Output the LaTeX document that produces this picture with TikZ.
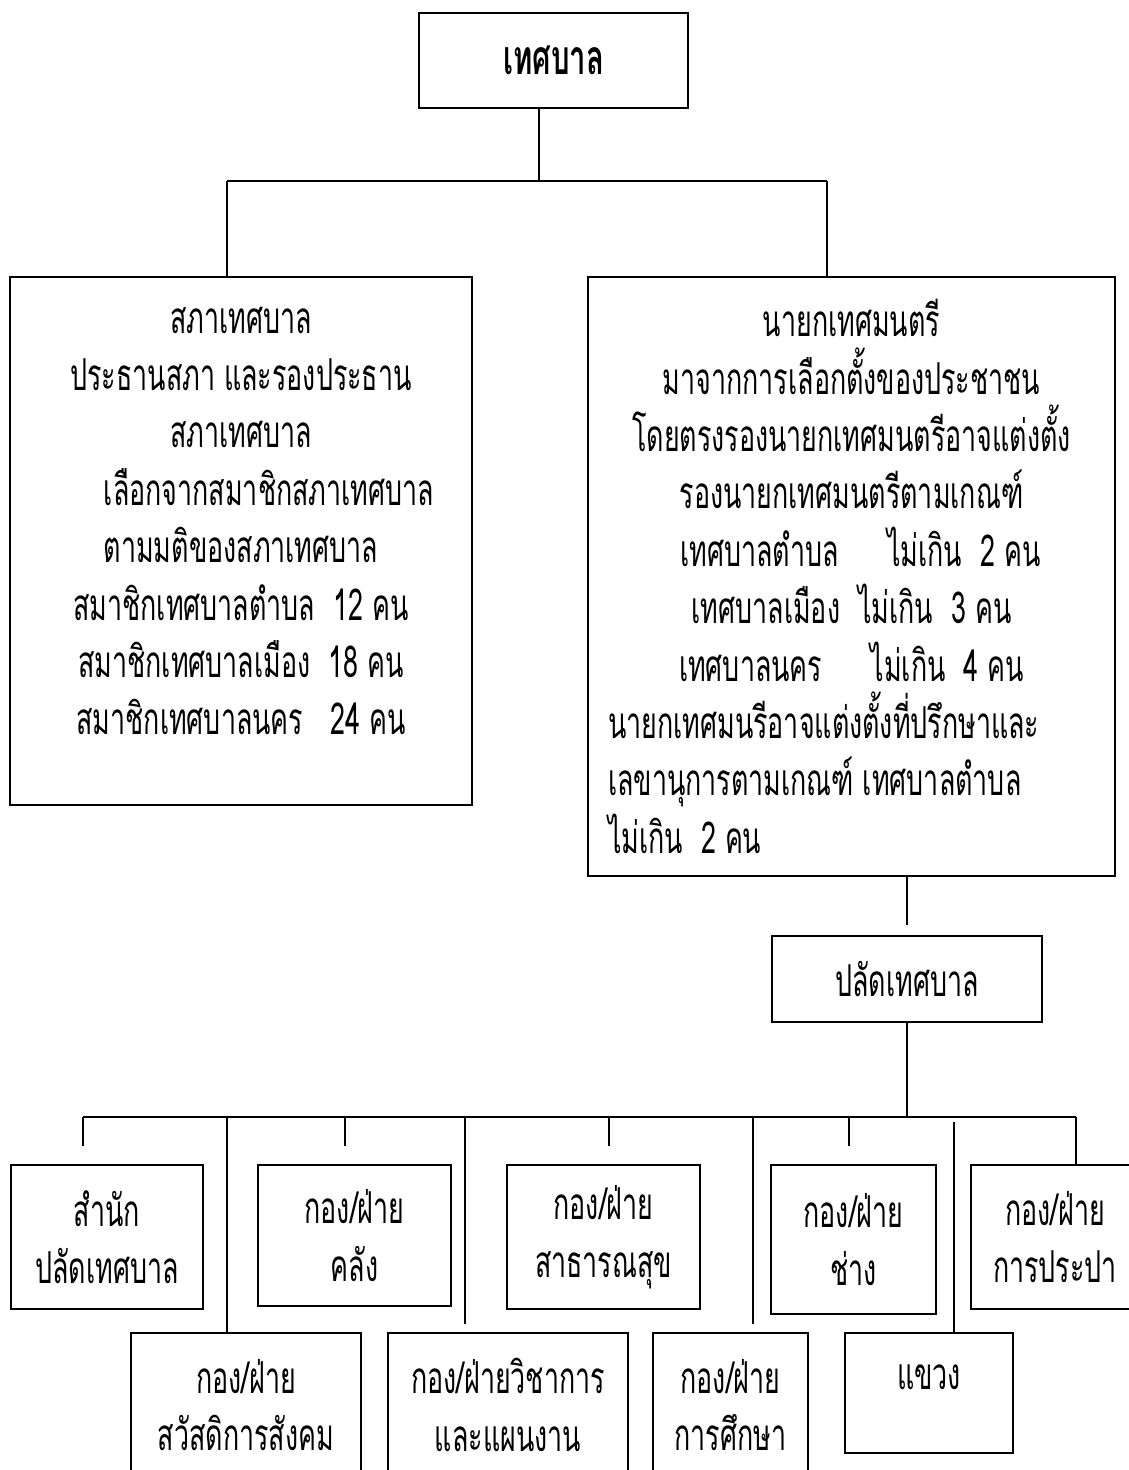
\documentclass[tikz,border=0pt]{standalone}
\usepackage{fontspec}
\newfontfamily\thaifont[Script=Thai,FakeStretch=0.61]{Loma}
\usetikzlibrary{positioning}

\begin{document}
\begin{tikzpicture}[x=0.5pt,y=0.5pt,line width=1pt,
    every node/.style={font=\thaifont\fontsize{22}{28.7}\selectfont},
    box/.style 2 args={draw,minimum width=#1*0.5pt,minimum height=#2*0.5pt,inner sep=0pt,align=center},
    txt/.style={inner sep=0pt,align=center}]
    \useasboundingbox (0,0) rectangle (1128,-1470);
    % top level
    \node [box={269}{95},font=\thaifont\bfseries\fontsize{24}{28.7}\selectfont] (muni) at (553.5,-60.5) {เทศบาล};
    \node [box={462}{528}] (council) at (241,-541) {};
    \node [txt] (councilText) at (241,-521) {สภาเทศบาล\\ประธานสภา และรองประธาน\\สภาเทศบาล\\\hspace*{28pt}เลือกจากสมาชิกสภาเทศบาล\\ตามมติของสภาเทศบาล\\สมาชิกเทศบาลตำบล\ \ 12 คน\\สมาชิกเทศบาลเมือง\ \ 18 คน\\สมาชิกเทศบาลนคร\ \ \ 24 คน};
    \node [box={527}{599}] (mayor) at (851.5,-576.5) {นายกเทศมนตรี\\มาจากการเลือกตั้งของประชาชน\\โดยตรงรองนายกเทศมนตรีอาจแต่งตั้ง\\รองนายกเทศมนตรีตามเกณฑ์\\\hspace*{9pt}เทศบาลตำบล\hspace{1.1em}ไม่เกิน\ \ 2 คน\\เทศบาลเมือง\ \ ไม่เกิน\ \ 3 คน\\เทศบาลนคร\hspace{1.1em}ไม่เกิน\ \ 4 คน\\\makebox[243.5pt][l]{นายกเทศมนรีอาจแต่งตั้งที่ปรึกษาและ}\\\makebox[243.5pt][l]{เลขานุการตามเกณฑ์ เทศบาลตำบล}\\\makebox[243.5pt][l]{ไม่เกิน\ \ 2 คน}};
    \node [box={270}{86}] (clerk) at (907,-979) {ปลัดเทศบาล};
    % divisions, upper row
    \node [box={192}{144}] (office) at (107,-1237) {สำนัก\\ปลัดเทศบาล};
    \node [box={193}{141}] (finance) at (354.5,-1235.5) {กอง/ฝ่าย\\คลัง};
    \node [box={193}{144}] (health) at (603.5,-1237) {กอง/ฝ่าย\\สาธารณสุข};
    \node [box={165}{149}] (works) at (853.5,-1239.5) {กอง/ฝ่าย\\ช่าง};
    \node [box={168}{144}] (water) at (1055,-1237) {กอง/ฝ่าย\\การประปา};
    % divisions, lower row
    \node [box={230}{144}] (welfare) at (246,-1405) {กอง/ฝ่าย\\สวัสดิการสังคม};
    \node [box={240}{144}] (planning) at (508,-1405) {กอง/ฝ่ายวิชาการ\\และแผนงาน};
    \node [box={155}{144}] (education) at (730.5,-1405) {กอง/ฝ่าย\\การศึกษา};
    \node [box={168}{120}] (district) at (929,-1393) {};
    \node [txt] (districtText) at (929,-1377) {แขวง};
    % connectors
    \coordinate (top) at (539,-181);
    \coordinate (tl) at (227,-181);
    \coordinate (tr) at (827,-181);
    \draw [black] (muni.south -| top) -- (top);
    \draw [black] (tl) -- (tr);
    \draw [black] (tl) -- (tl |- council.north);
    \draw [black] (tr) -- (tr |- mayor.north);
    \draw [black, shorten >=5] (mayor.south -| clerk.north) -- (clerk.north);
    \coordinate (bl) at (83,-1117);
    \coordinate (br) at (1076,-1117);
    \draw [black] (clerk.south) -- (clerk.south |- bl);
    \draw [black] (bl) -- (br);
    \draw [black, shorten >=9] (bl) -- (bl |- office.north);
    \draw [black] (227,-1117) -- (227,-1117 |- welfare.north);
    \draw [black, shorten >=9] (345,-1117) -- (345,-1117 |- finance.north);
    \draw [black, shorten >=4] (465,-1117) -- (465,-1117 |- planning.north);
    \draw [black, shorten >=9] (609,-1117) -- (609,-1117 |- health.north);
    \draw [black, shorten >=4] (753,-1117) -- (753,-1117 |- education.north);
    \draw [black, shorten >=9] (849,-1117) -- (849,-1117 |- works.north);
    \draw [black] (954,-1122) -- (954,-1122 |- district.north);
    \draw [black] (br) -- (br |- water.north);
\end{tikzpicture}
\end{document}
